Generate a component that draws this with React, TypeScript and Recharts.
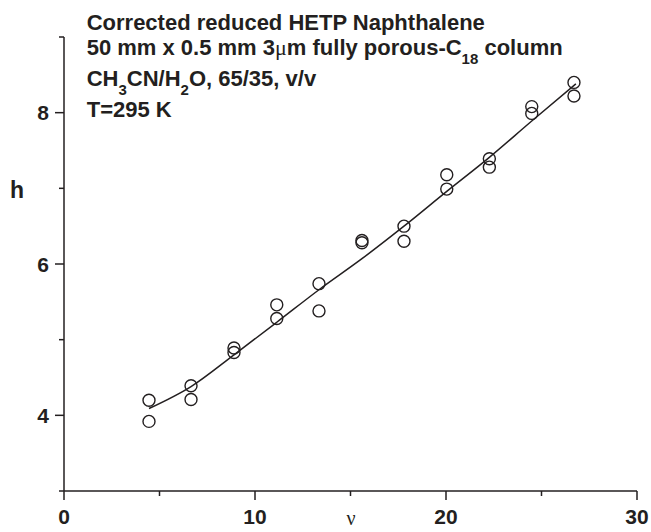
import React from 'react';
import { ScatterChart, Scatter, XAxis, YAxis, Customized } from 'recharts';

// measured points (reduced velocity nu, reduced plate height h)
const nuValues = [4.45, 4.45, 6.65, 6.65, 8.9, 8.9, 11.14, 11.14, 13.35, 13.35, 15.6, 15.6, 17.8, 17.8, 20.04, 20.04, 22.27, 22.27, 24.49, 24.49, 26.7, 26.7];
const hValues = [4.2, 3.92, 4.39, 4.21, 4.89, 4.83, 5.46, 5.28, 5.74, 5.38, 6.31, 6.28, 6.5, 6.3, 7.18, 6.99, 7.39, 7.28, 8.08, 7.99, 8.4, 8.22];

// fitted curve
const fitNu = [4.45, 6.65, 8.9, 11.14, 13.35, 15.6, 17.8, 20.04, 22.27, 24.49, 26.8];
const fitH = [4.09, 4.38, 4.8, 5.23, 5.66, 6.07, 6.5, 6.96, 7.41, 7.89, 8.38];

const xTicks = [0, 5, 10, 15, 20, 25, 30];
const xLabeled = [0, 10, 20, 30];
const yTicks = [3, 4, 5, 6, 7, 8, 9];
const yLabeled = [4, 6, 8];

const titleLines = [
  'Corrected reduced HETP Naphthalene',
  '50 mm x 0.5 mm 3',
  'CH',
  'T=295 K',
];

const points = nuValues.map((v, i) => ({ x: v, y: hValues[i] }));
const fit = fitNu.map((v, i) => ({ x: v, y: fitH[i] }));

const INK = '#231f20';
const SANS = '"Liberation Sans", Arial, Helvetica, sans-serif';
const SERIF = '"Liberation Serif", "Times New Roman", serif';

const XTick = (props: any) => {
  const { x, y, payload } = props;
  const major = xLabeled.includes(payload.value);
  return (
    <g>
      <line x1={x} y1={y} x2={x} y2={y + (major ? 9 : 5)} stroke={INK} strokeWidth={1.5} />
      {major && (
        <text x={x} y={y + 33} textAnchor="middle" fontFamily={SANS} fontWeight="bold" fontSize={21} fill={INK}>
          {payload.value}
        </text>
      )}
    </g>
  );
};

const YTick = (props: any) => {
  const { x, y, payload } = props;
  const major = yLabeled.includes(payload.value);
  return (
    <g>
      <line x1={x - (major ? 9 : 5)} y1={y} x2={x} y2={y} stroke={INK} strokeWidth={1.5} />
      {major && (
        <text x={x - 15} y={y + 7.5} textAnchor="end" fontFamily={SANS} fontWeight="bold" fontSize={21} fill={INK}>
          {payload.value}
        </text>
      )}
    </g>
  );
};

const Circle = (props: any) => {
  const { cx, cy } = props;
  return <circle cx={cx} cy={cy} r={6} fill="none" stroke={INK} strokeWidth={1.4} />;
};

const NoShape = () => null;

const Annotations = () => (
  <g fontFamily={SANS} fontWeight="bold" fontSize={22} fill={INK}>
    <text x={86.7} y={30}>{titleLines[0]}</text>
    <text x={86.7} y={55}>
      {titleLines[1]}
      <tspan fontFamily={SERIF} fontWeight="normal">μ</tspan>
      <tspan>m fully porous-C</tspan>
      <tspan fontSize={15} dy={9}>18</tspan>
      <tspan dy={-9}> column</tspan>
    </text>
    <text x={86.7} y={86}>
      {titleLines[2]}
      <tspan fontSize={15} dy={9}>3</tspan>
      <tspan dy={-9}>CN/H</tspan>
      <tspan fontSize={15} dy={9}>2</tspan>
      <tspan dy={-9}>O, 65/35, v/v</tspan>
    </text>
    <text x={86.7} y={116.7}>{titleLines[3]}</text>
    <text x={10} y={198.3} fontSize={23}>h</text>
    <text x={351} y={525} fontFamily={SERIF} fontWeight="normal" fontSize={20} textAnchor="middle">ν</text>
  </g>
);

export default function App() {
  return (
    <div style={{ position: 'absolute', left: 0, top: 0, width: 651, height: 532 }}>
      <ScatterChart width={651} height={532} margin={{ top: 37, right: 14, bottom: 0, left: 0 }}>
        <XAxis
          type="number"
          dataKey="x"
          domain={[0, 30]}
          ticks={xTicks}
          interval={0}
          height={41}
          tickSize={0}
          tickMargin={0}
          tickLine={false}
          tick={<XTick />}
          axisLine={{ stroke: INK, strokeWidth: 1.5 }}
          allowDataOverflow
        />
        <YAxis
          type="number"
          dataKey="y"
          domain={[3, 9]}
          ticks={yTicks}
          interval={0}
          width={64}
          tickSize={0}
          tickMargin={0}
          tickLine={false}
          tick={<YTick />}
          axisLine={{ stroke: INK, strokeWidth: 1.5 }}
          allowDataOverflow
        />
        <Scatter
          data={fit}
          line={{ stroke: INK, strokeWidth: 1.5 }}
          lineJointType="monotoneX"
          shape={<NoShape />}
          isAnimationActive={false}
        />
        <Scatter data={points} shape={<Circle />} isAnimationActive={false} />
        <Customized component={<Annotations />} />
      </ScatterChart>
    </div>
  );
}
